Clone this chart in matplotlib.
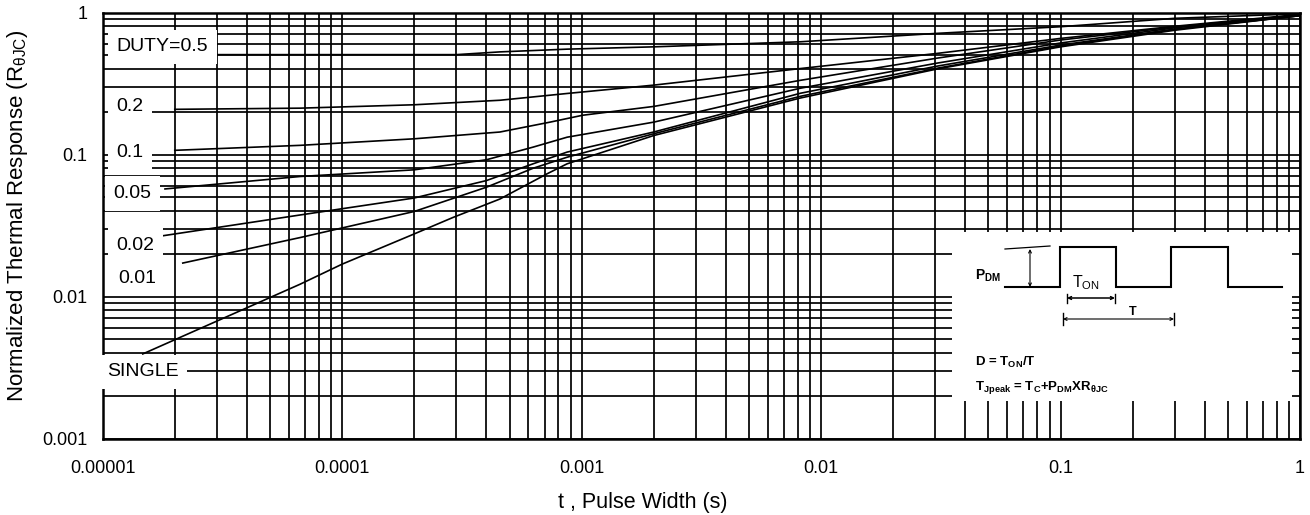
import numpy as np
import matplotlib
matplotlib.use('Agg')
import matplotlib.pyplot as plt
from matplotlib.ticker import LogLocator, NullFormatter

plt.rcParams['font.family'] = ['Liberation Sans', 'DejaVu Sans']
plt.rcParams['mathtext.fontset'] = 'custom'
plt.rcParams['mathtext.rm'] = 'Liberation Sans'
plt.rcParams['mathtext.it'] = 'Liberation Sans:italic'
plt.rcParams['mathtext.bf'] = 'Liberation Sans:bold'

# ---------------- data ----------------
d05_t = [3.0e-5, 3.0e-4, 4.56e-4, 8.7e-4, 2.0e-3, 8.2e-3, 3.05e-2, 0.1, 0.3, 1.0]
d05_r = [0.505, 0.505, 0.528, 0.552, 0.573, 0.622, 0.713, 0.794, 0.91, 0.98]

d02_t = [2.0e-5, 6.67e-5, 2.0e-4, 4.56e-4, 8.7e-4, 2.0e-3, 8.2e-3, 3.05e-2, 0.1, 0.3, 1.0]
d02_r = [0.208, 0.212, 0.224, 0.241, 0.269, 0.308, 0.403, 0.515, 0.657, 0.80, 0.97]

d01_t = [2.0e-5, 6.67e-5, 2.0e-4, 4.56e-4, 7.38e-4, 1.01e-3, 2.0e-3, 8.2e-3, 3.05e-2, 0.1, 0.3, 1.0]
d01_r = [0.107, 0.116, 0.129, 0.144, 0.169, 0.189, 0.218, 0.333, 0.477, 0.64, 0.79, 0.96]

d005_t = [1.82e-5, 6.67e-5, 2.0e-4, 4.0e-4, 6.27e-4, 8.7e-4, 2.0e-3, 8.2e-3, 3.05e-2, 0.1, 0.3, 1.0]
d005_r = [0.0572, 0.070, 0.078, 0.0918, 0.1127, 0.1324, 0.169, 0.293, 0.44, 0.61, 0.78, 0.96]

d002_t = [1.79e-5, 6.67e-5, 2.0e-4, 4.0e-4, 6.27e-4, 8.7e-4, 2.0e-3, 8.2e-3, 3.05e-2, 0.1, 0.3, 1.0]
d002_r = [0.0268, 0.0375, 0.0494, 0.0655, 0.086, 0.104, 0.144, 0.27, 0.419, 0.59, 0.764, 0.95]

d001_t = [2.16e-5, 6.67e-5, 2.0e-4, 4.0e-4, 6.27e-4, 8.7e-4, 2.0e-3, 8.2e-3, 3.05e-2, 0.1, 0.3, 1.0]
d001_r = [0.0172, 0.026, 0.0397, 0.0588, 0.080, 0.0957, 0.14, 0.257, 0.405, 0.58, 0.76, 0.95]

single_t = [1.47e-5, 6.67e-5, 1.0e-4, 1.92e-4, 2.9e-4, 4.56e-4, 7.16e-4, 8.7e-4, 2.0e-3, 8.2e-3, 3.05e-2, 0.1, 0.3, 1.0]
single_r = [0.00394, 0.0122, 0.0169, 0.0268, 0.036, 0.0486, 0.073, 0.086, 0.136, 0.25, 0.40, 0.573, 0.75, 0.95]

curve_labels = ['DUTY=0.5', '0.2', '0.1', '0.05', '0.02', '0.01', 'SINGLE']
label_t = [1.14e-5, 1.14e-5, 1.14e-5, 1.11e-5, 1.14e-5, 1.16e-5, 1.04e-5]
label_r = [0.573, 0.218, 0.104, 0.0533, 0.0228, 0.0134, 0.00294]

x_ticks = [1e-5, 1e-4, 1e-3, 1e-2, 1e-1, 1]
x_tick_labels = ['0.00001', '0.0001', '0.001', '0.01', '0.1', '1']
y_ticks = [1e-3, 1e-2, 1e-1, 1]
y_tick_labels = ['0.001', '0.01', '0.1', '1']

series = [(d05_t, d05_r), (d02_t, d02_r), (d01_t, d01_r), (d005_t, d005_r),
          (d002_t, d002_r), (d001_t, d001_r), (single_t, single_r)]

# ---------------- figure ----------------
W, H = 1310, 515
fig = plt.figure(figsize=(W / 100, H / 100), dpi=100)
ax = fig.add_axes([102.7 / W, 1 - 438.5 / H, (1300 - 102.7) / W, (438.5 - 12.5) / H])
ax.set_xscale('log')
ax.set_yscale('log')
ax.set_xlim(1e-5, 1)
ax.set_ylim(1e-3, 1)
ax.set_xticks(x_ticks)
ax.set_xticklabels(x_tick_labels)
ax.set_yticks(y_ticks)
ax.set_yticklabels(y_tick_labels)
for a in (ax.xaxis, ax.yaxis):
    a.set_minor_locator(LogLocator(base=10, subs=np.arange(2, 10), numticks=50))
    a.set_minor_formatter(NullFormatter())
ax.tick_params(which='both', length=0)
ax.tick_params(axis='x', pad=15.5, labelsize=13)
ax.tick_params(axis='y', pad=10.8, labelsize=13)
ax.set_axisbelow(True)
ax.grid(True, which='both', color='black', linewidth=1.25)
for s in ax.spines.values():
    s.set_linewidth(1.8)

for t, r in series:
    ax.plot(t, r, color='black', linewidth=1.2, zorder=2)

for lab, tx, ry in zip(curve_labels, label_t, label_r):
    ax.text(tx, ry, lab, fontsize=14, ha='left', va='center', zorder=3,
            bbox=dict(boxstyle='square,pad=0.45', facecolor='white', edgecolor='none'))

fig.text(17.5 / W, 1 - 216 / H, 'Normalized Thermal Response (R$_{\\mathregular{θJC}}$)',
         rotation=90, ha='center', va='center', fontsize=16)
fig.text(643 / W, 1 - 508 / H, 't , Pulse Width (s)', ha='center', va='baseline', fontsize=15.5)

# ---------------- inset with pulse diagram ----------------
ins = fig.add_axes([952 / W, 1 - 401 / H, 340 / W, 169 / H])
ins.set_zorder(5)
ins.set_xlim(952, 1292)
ins.set_ylim(401, 232)
ins.set_xticks([])
ins.set_yticks([])
for s in ins.spines.values():
    s.set_visible(False)
ins.set_facecolor('white')

wave_x = [1005, 1060, 1060, 1116, 1116, 1171, 1171, 1228, 1228, 1282]
wave_y = [287, 287, 247, 247, 287, 287, 247, 247, 287, 287]
ins.plot(wave_x, wave_y, color='black', lw=1.5, solid_joinstyle='miter')
ins.plot([1005, 1050], [249, 246], color='black', lw=0.9)
arr = dict(arrowstyle='<->', lw=0.8, color='black', shrinkA=0, shrinkB=0, mutation_scale=5)
ins.annotate('', xy=(1030, 249), xytext=(1030, 287), arrowprops=arr)
ins.annotate('', xy=(1067, 298), xytext=(1115, 298), arrowprops=dict(arr, lw=1.1))
ins.plot([1067, 1067], [294, 303], color='black', lw=1.0)
ins.plot([1115, 1115], [294, 303], color='black', lw=1.0)
ins.annotate('', xy=(1063, 319), xytext=(1174, 319), arrowprops=arr)
ins.plot([1063, 1063], [313, 325], color='black', lw=1.0)
ins.plot([1174, 1174], [313, 325], color='black', lw=1.0)

ins.text(975, 276, 'P$_{\\mathbf{DM}}$', fontsize=10, fontweight='bold', ha='left', va='center')
ins.text(1072, 283, 'T$_{\\mathregular{ON}}$', fontsize=11.5, ha='left', va='center')
ins.text(1133, 312, 'T', fontsize=9, fontweight='bold', ha='center', va='center')
ins.text(975, 362, 'D = T$_{\\mathbf{ON}}$/T', fontsize=9.5, fontweight='bold',
         ha='left', va='center')
ins.text(975, 387, 'T$_{\\mathbf{Jpeak}}$ = T$_{\\mathbf{C}}$+P$_{\\mathbf{DM}}$XR$_{\\mathbf{θJC}}$',
         fontsize=9.5, fontweight='bold', ha='left', va='center')

fig.savefig('out.png', dpi=100)
